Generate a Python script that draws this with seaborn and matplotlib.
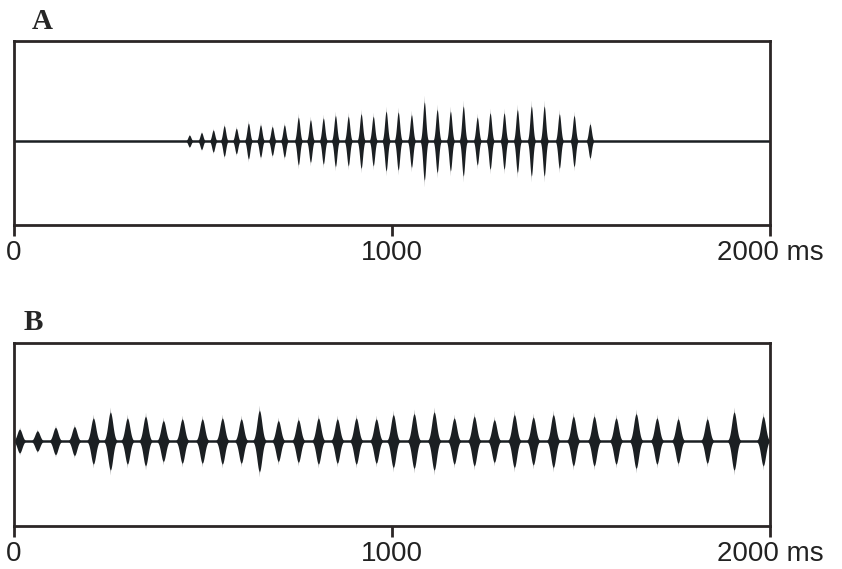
import numpy as np
import pandas as pd
import matplotlib.pyplot as plt
import seaborn as sns

# panel A: pulse times (ms) and peak amplitude (px-ish units)
a_times = [465, 497, 528, 557, 589, 621, 653, 684, 716, 753, 785, 819, 851, 885, 919, 951, 985,
           1017, 1052, 1086, 1120, 1155, 1189, 1226, 1260, 1297, 1332, 1369, 1403, 1443, 1482, 1524]
a_amps = [7, 10, 13, 18, 15, 21, 19, 17, 19, 28, 25, 27, 30, 29, 32, 29, 35,
          34, 31, 46, 37, 35, 41, 28, 33, 33, 37, 41, 41, 32, 30, 20]

# panel B
b_times = [16, 63, 111, 161, 211, 256, 301, 349, 396, 446, 499, 552, 602, 650,
           700, 753, 806, 856, 906, 959, 1004, 1059, 1112, 1165, 1218, 1271, 1324, 1374,
           1427, 1480, 1535, 1593, 1646, 1701, 1757, 1834, 1905, 1982]
b_amps = [14, 12, 16, 17, 27, 34, 27, 29, 24, 26, 26, 27, 26, 36,
          24, 25, 27, 26, 27, 26, 31, 32, 34, 27, 29, 25, 31, 28,
          31, 29, 29, 27, 32, 27, 26, 26, 34, 29]

tick_pos = [0, 1000, 2000]
tick_labels = ["0", "1000", "2000 ms"]

sns.set_style("white")
ink = "#1b1f22"
frame = "#2b2626"

fig = plt.figure(figsize=(8.42, 5.69), dpi=100)
W, H = 842, 569
axA = fig.add_axes([13.5 / W, (H - 225) / H, (770 - 13.5) / W, 184 / H])
axB = fig.add_axes([13.5 / W, (H - 526) / H, (770 - 13.5) / W, 183 / H])


def draw_panel(ax, times, amps, width, ylim):
    base = pd.DataFrame({"t": [0, 2000], "v": [0, 0]})
    sns.lineplot(data=base, x="t", y="v", ax=ax, color=ink, lw=1.8)
    for t0, a in zip(times, amps):
        t = np.linspace(t0 - 3 * width, t0 + 3 * width, 161)
        dt = np.abs(t - t0)
        body = 0.85 * a * np.exp(-(dt / width) ** 2)
        spike = a * np.exp(-dt / (0.3 * width))
        env = np.maximum(body, spike)
        ax.fill_between(t, -env, env, color=ink, lw=0)
    ax.set_xlim(0, 2000)
    ax.set_ylim(*ylim)
    ax.set_yticks([])
    ax.set_xlabel("")
    ax.set_ylabel("")
    ax.set_xticks(tick_pos)
    ax.set_xticklabels(tick_labels, family="Liberation Sans", fontsize=20)
    ax.tick_params(axis="x", direction="out", length=8, width=2, color=frame,
                   pad=3, labelcolor="#222222", bottom=True)
    for s in ax.spines.values():
        s.set_visible(True)
        s.set_linewidth(2)
        s.set_color(frame)


draw_panel(axA, a_times, a_amps, 5.5, (-84, 100))
draw_panel(axB, b_times, b_amps, 9.0, (-85, 98))

fig.text(42 / W, 1 - 29 / H, "A", family="Liberation Serif", weight="bold",
         fontsize=21, ha="center", va="baseline")
fig.text(33 / W, 1 - 330 / H, "B", family="Liberation Serif", weight="bold",
         fontsize=21, ha="center", va="baseline")

fig.savefig("out.png", dpi=100, facecolor="white")
